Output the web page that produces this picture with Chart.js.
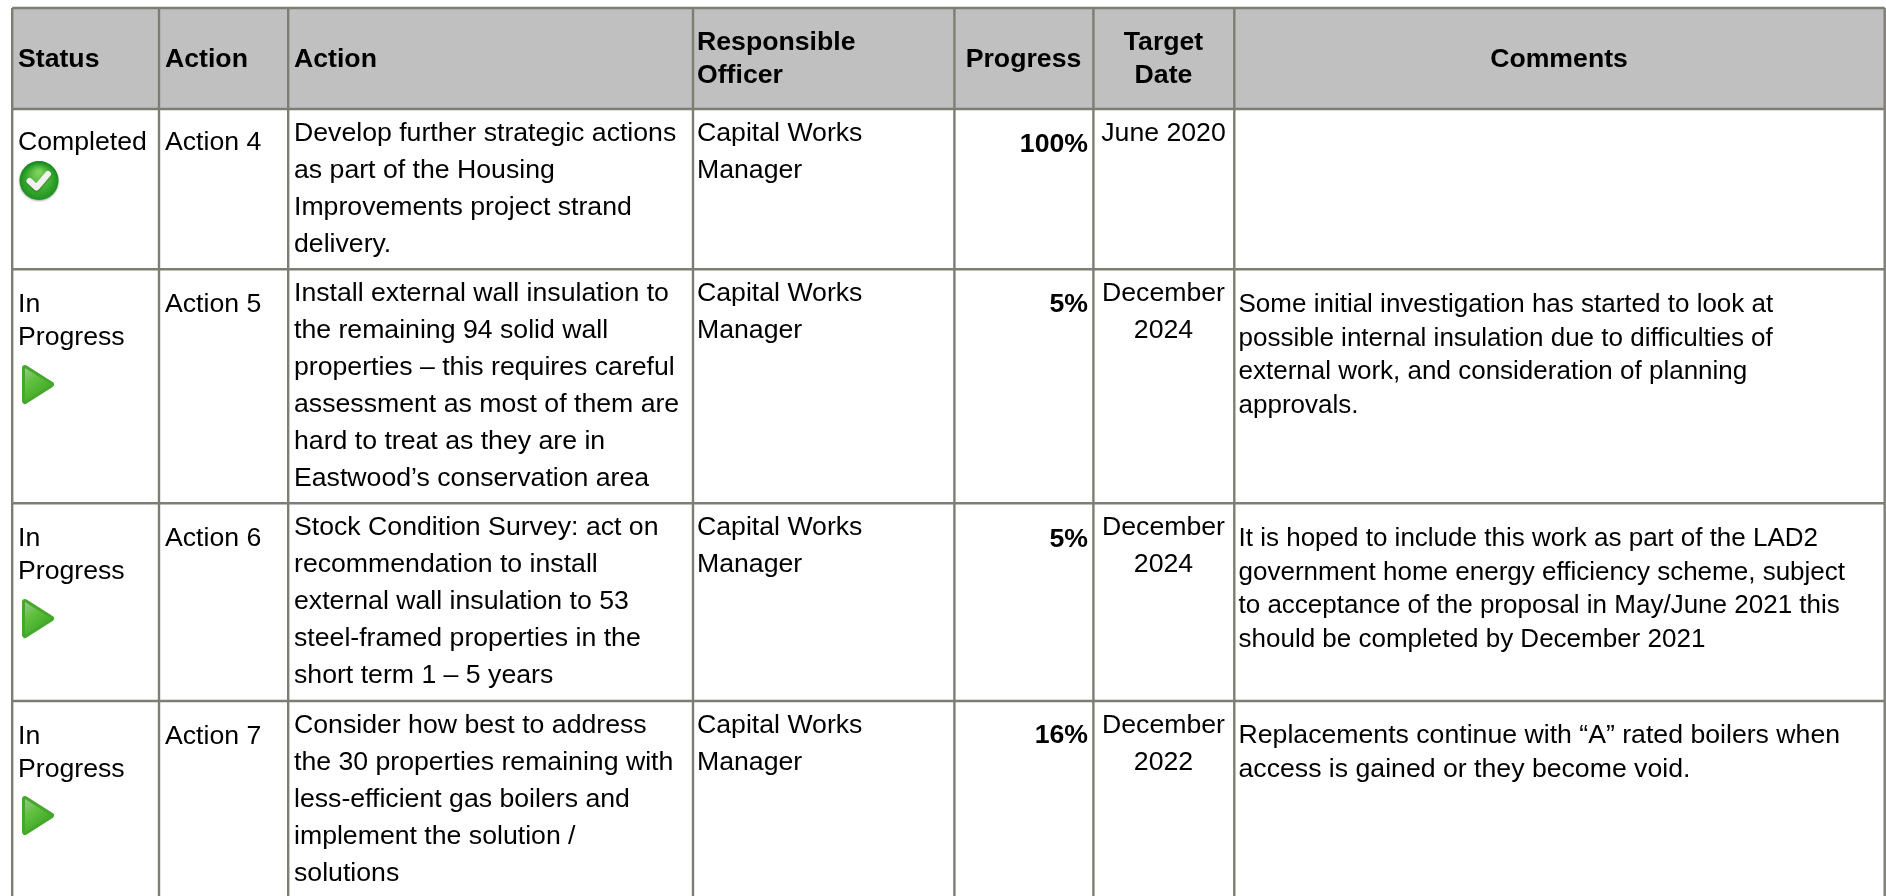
<!DOCTYPE html>
<html><head><meta charset="utf-8">
<style>html,body{margin:0;padding:0;background:#fff;overflow:hidden}#w{width:1886px;height:896px;position:relative}canvas{display:block}</style>
<script src="https://cdn.jsdelivr.net/npm/chart.js@4"></script></head><body>
<div id="w"><canvas id="c" width="1886" height="896"></canvas></div>
<script>
const columnEdges=[12.2,159,288.2,693,954.4,1093.4,1234.3,1884.7];
const rowEdges=[8,109,269.3,503.3,701];
const headers=[["Status"],["Action"],["Action"],["Responsible","Officer"],["Progress"],["Target","Date"],["Comments"]];
const statuses=[["Completed"],["In","Progress"],["In","Progress"],["In","Progress"]];
const actions=["Action 4","Action 5","Action 6","Action 7"];
const descriptions=[["Develop further strategic actions","as part of the Housing","Improvements project strand","delivery."],["Install external wall insulation to","the remaining 94 solid wall","properties – this requires careful","assessment as most of them are","hard to treat as they are in","Eastwood’s conservation area"],["Stock Condition Survey: act on","recommendation to install","external wall insulation to 53","steel-framed properties in the","short term 1 – 5 years"],["Consider how best to address","the 30 properties remaining with","less-efficient gas boilers and","implement the solution /","solutions"]];
const officers=[["Capital Works","Manager"],["Capital Works","Manager"],["Capital Works","Manager"],["Capital Works","Manager"]];
const progress=[100,5,5,16];
const targets=[["June 2020"],["December","2024"],["December","2024"],["December","2022"]];
const comments=[[],["Some initial investigation has started to look at","possible internal insulation due to difficulties of","external work, and consideration of planning","approvals."],["It is hoped to include this work as part of the LAD2","government home energy efficiency scheme, subject","to acceptance of the proposal in May/June 2021 this","should be completed by December 2021"],["Replacements continue with “A” rated boilers when","access is gained or they become void."]];
const iconX=[39,38,38,38];
const iconY=[181,385,619,816];

function checkIcon(){
  const s=42,cv=document.createElement('canvas');cv.width=cv.height=s;const g=cv.getContext('2d');
  const gr=g.createRadialGradient(21,12,2,21,24,23);gr.addColorStop(0,'#7ed05a');gr.addColorStop(.6,'#2fa32a');gr.addColorStop(1,'#0f7f18');
  g.shadowColor='rgba(0,0,0,.35)';g.shadowBlur=2;g.shadowOffsetY=1;
  g.fillStyle=gr;g.beginPath();g.arc(21,20.5,19.5,0,7);g.fill();
  g.shadowColor='rgba(0,0,0,.3)';g.shadowBlur=2;g.shadowOffsetY=1;
  g.strokeStyle='#f2f2f2';g.lineWidth=6;g.lineCap='round';g.lineJoin='round';g.beginPath();g.moveTo(11.5,21);g.lineTo(18.5,27.5);g.lineTo(30,14);g.stroke();
  return cv;
}
function triIcon(){
  const w=38,h=46,cv=document.createElement('canvas');cv.width=w;cv.height=h;const g=cv.getContext('2d');
  const gr=g.createLinearGradient(3,3,30,36);gr.addColorStop(0,'#a9c9a0');gr.addColorStop(.45,'#5fc03c');gr.addColorStop(1,'#37a024');
  g.shadowColor='rgba(60,60,60,.5)';g.shadowBlur=2;g.shadowOffsetX=1;g.shadowOffsetY=1;
  g.fillStyle=gr;g.strokeStyle='#45a82c';g.lineWidth=6;g.lineJoin='round';
  g.beginPath();g.moveTo(6,6);g.lineTo(32,22.5);g.lineTo(6,39);g.closePath();g.fill();g.shadowColor='transparent';g.stroke();
  g.fillStyle=gr;g.fill();
  return cv;
}
const F='"Liberation Sans"';
const tablePlugin={id:'table',
 beforeDatasetsDraw(ch){
  const {ctx,scales:{x,y}}=ch;ctx.save();
  const X=v=>x.getPixelForValue(v),Y=v=>y.getPixelForValue(v);
  const L=X(columnEdges[0]),R=X(columnEdges[columnEdges.length-1]),T=Y(rowEdges[0]);
  ctx.fillStyle='#c0c0c0';ctx.fillRect(L,T,R-L,Y(rowEdges[1])-T);
  ctx.strokeStyle='#7d7d74';ctx.lineWidth=2.4;
  columnEdges.forEach(v=>{ctx.beginPath();ctx.moveTo(X(v),T);ctx.lineTo(X(v),Y(896));ctx.stroke();});
  ctx.lineWidth=2.6;
  rowEdges.forEach(v=>{ctx.beginPath();ctx.moveTo(L,Y(v));ctx.lineTo(R,Y(v));ctx.stroke();});
  ctx.restore();
 },
 afterDatasetsDraw(ch){
  const {ctx,scales:{x,y}}=ch;ctx.save();ctx.textBaseline='alphabetic';ctx.fillStyle='#000';
  const put=(t,vx,vy,al)=>{ctx.textAlign=al||'left';ctx.fillText(t,x.getPixelForValue(vx),y.getPixelForValue(vy));};
  ctx.font='bold 26.67px '+F;
  put(headers[0][0],18,67);put(headers[1][0],165,67);put(headers[2][0],294,67);
  put(headers[3][0],697,50);put(headers[3][1],697,83);
  put(headers[4][0],1023.5,67,'center');put(headers[5][0],1163.5,50,'center');put(headers[5][1],1163.5,83,'center');put(headers[6][0],1559,67,'center');
  const rowBase=[141,301,534.7,733],statusBase=[150,312,546,743.5],commentBase=[0,312,546,743],progressBase=[152,312,547,743],commentSize=[26,26,26,26.67];
  for(let i=0;i<4;i++){
   ctx.font='26.67px '+F;
   statuses[i].forEach((t,k)=>put(t,18,statusBase[i]+k*33));
   put(actions[i],165,statusBase[i]);
   descriptions[i].forEach((t,k)=>put(t,294,rowBase[i]+k*37));
   officers[i].forEach((t,k)=>put(t,697,rowBase[i]+k*37));
   targets[i].forEach((t,k)=>put(t,1163.5,rowBase[i]+k*37,'center'));
   ctx.font=commentSize[i]+'px '+F;
   comments[i].forEach((t,k)=>put(t,1238.5,commentBase[i]+k*33.5));
   ctx.font='bold 26.67px '+F;
   put(progress[i]+'%',1088,progressBase[i],'right');
  }
  ctx.restore();
 }};
new Chart(document.getElementById('c'),{type:'scatter',
 data:{datasets:[{data:iconX.map((v,i)=>({x:v,y:iconY[i]})),pointStyle:[checkIcon(),triIcon(),triIcon(),triIcon()],pointRadius:20,clip:false}]},
 options:{responsive:false,animation:false,layout:{padding:0,autoPadding:false},
  plugins:{legend:{display:false},tooltip:{enabled:false},title:{display:false}},
  scales:{x:{type:'linear',display:false,min:0,max:1886},y:{type:'linear',display:false,min:0,max:896,reverse:true}}},
 plugins:[tablePlugin]});
</script></body></html>
